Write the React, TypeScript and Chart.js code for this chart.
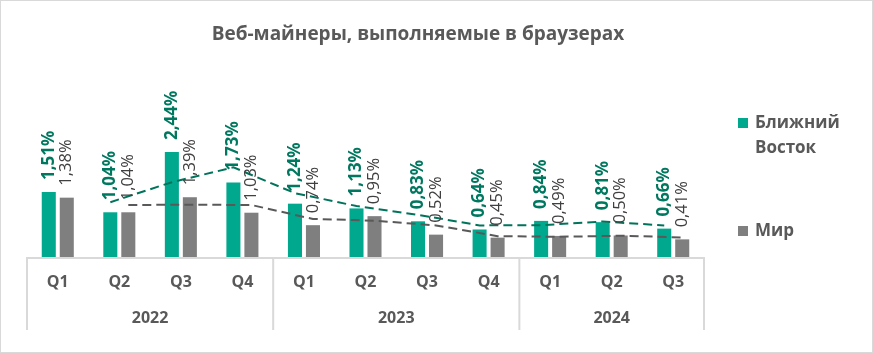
import React, { useEffect, useRef } from "react";
import { Chart, registerables } from "chart.js";
Chart.register(...registerables);

const quarters = ["Q1", "Q2", "Q3", "Q4", "Q1", "Q2", "Q3", "Q4", "Q1", "Q2", "Q3"];
const years = ["2022", "2023", "2024"];
const yearSpans = [4, 4, 3];
const middleEast = [1.51, 1.04, 2.44, 1.73, 1.24, 1.13, 0.83, 0.64, 0.84, 0.81, 0.66];
const world = [1.38, 1.04, 1.39, 1.03, 0.74, 0.95, 0.52, 0.45, 0.49, 0.5, 0.41];
const middleEastTrend = [null, 1.275, 1.74, 2.085, 1.485, 1.185, 0.98, 0.735, 0.74, 0.825, 0.735];
const worldTrend = [null, 1.21, 1.215, 1.21, 0.885, 0.845, 0.735, 0.485, 0.47, 0.495, 0.455];
const seriesNames = ["Ближний Восток", "Мир"];
const title = "Веб-майнеры, выполняемые в браузерах";

const GREEN = "#00A88E";
const GREEN_DARK = "#00735B";
const GREY = "#7F7F7F";
const TEXT = "#595959";
const FONT = '"Open Sans", sans-serif';
const BAR_SHIFT = 0.146;

const fmt = (v: number) => v.toFixed(2).replace(".", ",") + "%";

const decorPlugin = {
  id: "decor",
  afterDraw(chart: any) {
    const ctx = chart.ctx;
    const { left, right, bottom } = chart.chartArea;
    const xs = chart.scales.x;
    ctx.save();
    ctx.strokeStyle = "#D9D9D9";
    ctx.lineWidth = 1;
    ctx.strokeRect(0.5, 0.5, chart.width - 1, chart.height - 1);

    ctx.fillStyle = TEXT;
    ctx.font = `bold 19px ${FONT}`;
    ctx.textAlign = "center";
    ctx.textBaseline = "middle";
    ctx.fillText(title, 418, 35);

    ctx.strokeStyle = "#D9D9D9";
    ctx.lineWidth = 2;
    ctx.beginPath();
    ctx.moveTo(left, bottom + 1);
    ctx.lineTo(right, bottom + 1);
    ctx.stroke();
    ctx.font = `bold 16px ${FONT}`;
    quarters.forEach((q, i) => {
      ctx.fillText(q, xs.getPixelForValue(i), bottom + 25);
    });
    let start = 0;
    const bounds: number[] = [left];
    years.forEach((y, k) => {
      const end = start + yearSpans[k] - 1;
      const x0 = xs.getPixelForValue(start - 0.5);
      const x1 = xs.getPixelForValue(end + 0.5);
      bounds.push(x1);
      ctx.fillText(y, (x0 + x1) / 2, bottom + 61);
      start = end + 1;
    });
    ctx.beginPath();
    bounds.forEach((x) => {
      ctx.moveTo(x, bottom);
      ctx.lineTo(x, bottom + 73);
    });
    ctx.stroke();

    ctx.textAlign = "left";
    ctx.font = `bold 17px ${FONT}`;
    ctx.fillStyle = GREEN;
    ctx.fillRect(738, 118, 10, 10);
    ctx.fillStyle = TEXT;
    const [w1, w2] = seriesNames[0].split(" ");
    ctx.fillText(w1, 755, 123);
    ctx.fillText(w2, 755, 148);
    ctx.fillStyle = GREY;
    ctx.fillRect(738, 226, 10, 10);
    ctx.fillStyle = TEXT;
    ctx.fillText(seriesNames[1], 755, 231);
    ctx.restore();
  },
  afterDatasetsDraw(chart: any) {
    const ctx = chart.ctx;
    ctx.save();
    [0, 1].forEach((di) => {
      const meta = chart.getDatasetMeta(di);
      const vals = di === 0 ? middleEast : world;
      ctx.font = di === 0 ? `bold 17px ${FONT}` : `16.5px ${FONT}`;
      ctx.fillStyle = di === 0 ? "#00785F" : "#404040";
      meta.data.forEach((el: any, i: number) => {
        ctx.save();
        ctx.translate(el.x, el.y - 12);
        ctx.rotate(-Math.PI / 2);
        ctx.textAlign = "left";
        ctx.textBaseline = "middle";
        ctx.fillText(fmt(vals[i]), 0, 0);
        ctx.restore();
      });
    });
    ctx.restore();
  },
};

export default function App() {
  const ref = useRef<HTMLCanvasElement>(null);
  useEffect(() => {
    document.body.style.margin = "0";
    const chart = new Chart(ref.current!, {
      type: "bar",
      data: {
        datasets: [
          {
            label: seriesNames[0],
            data: middleEast.map((v, i) => ({ x: i, y: v })),
            backgroundColor: GREEN,
            categoryPercentage: 0.585,
            barPercentage: 0.78,
            order: 2,
          },
          {
            label: seriesNames[1],
            data: world.map((v, i) => ({ x: i, y: v })),
            backgroundColor: GREY,
            categoryPercentage: 0.585,
            barPercentage: 0.78,
            order: 2,
          },
          {
            type: "line",
            label: "trend1",
            data: middleEastTrend.map((v, i) => ({ x: i - BAR_SHIFT, y: v })),
            borderColor: GREEN_DARK,
            borderWidth: 2,
            borderDash: [9, 5],
            pointRadius: 0,
            fill: false,
            order: 1,
          } as any,
          {
            type: "line",
            label: "trend2",
            data: worldTrend.map((v, i) => ({ x: i + BAR_SHIFT, y: v })),
            borderColor: "#595959",
            borderWidth: 2,
            borderDash: [9, 5],
            pointRadius: 0,
            fill: false,
            order: 1,
          } as any,
        ],
      },
      options: {
        responsive: false,
        animation: false,
        layout: { padding: { left: 27, right: 169, top: 128, bottom: 96 } },
        plugins: { legend: { display: false }, tooltip: { enabled: false }, title: { display: false } },
        scales: {
          x: { type: "linear", display: false, min: -0.5, max: 10.5, offset: false, grid: { display: false } },
          y: { display: false, min: 0, max: 3 },
        },
      },
      plugins: [decorPlugin],
    });
    return () => chart.destroy();
  }, []);
  return <canvas ref={ref} width={873} height={353} style={{ display: "block" }} />;
}
